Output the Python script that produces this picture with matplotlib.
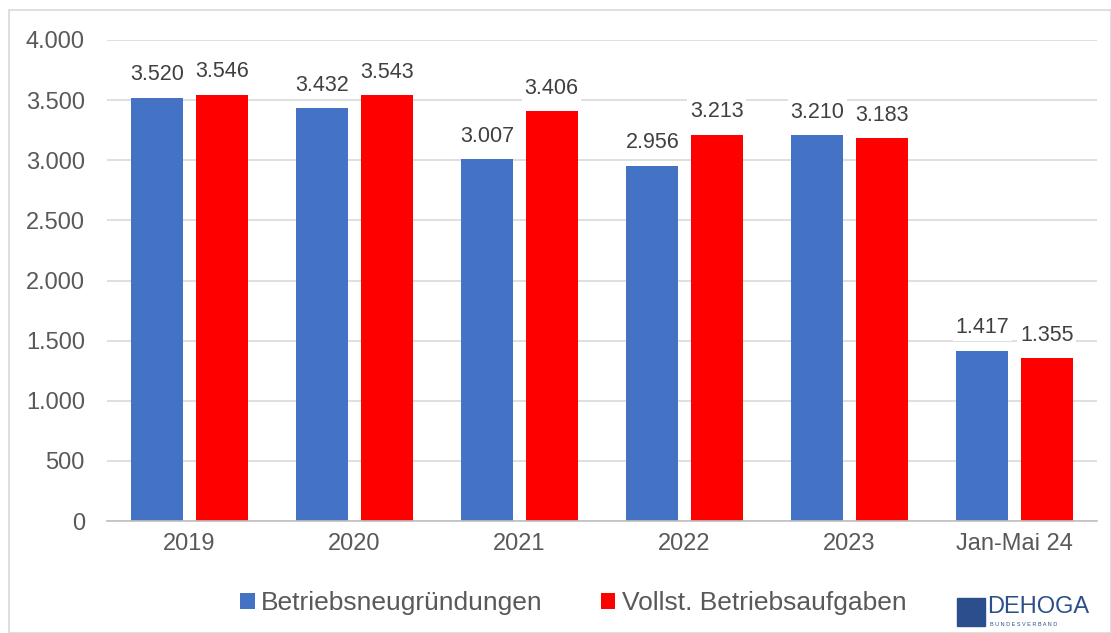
import matplotlib
matplotlib.use("Agg")
import matplotlib.pyplot as plt
from matplotlib.patches import Rectangle
import numpy as np

plt.rcParams['font.family'] = ['Liberation Sans', 'DejaVu Sans']

categories = ["2019", "2020", "2021", "2022", "2023", "Jan-Mai 24"]
gruendungen = [3520, 3432, 3007, 2956, 3210, 1417]
aufgaben = [3546, 3543, 3406, 3213, 3183, 1355]
labels = ["Betriebsneugründungen", "Vollst. Betriebsaufgaben"]
yticks = [0, 500, 1000, 1500, 2000, 2500, 3000, 3500, 4000]

BLUE = "#4472c4"
RED = "#ff0000"
TXT = "#595959"


def fmt(v):
    return f"{v:,}".replace(",", ".")


fig = plt.figure(figsize=(11.11, 6.33), dpi=100)
fig.patches.append(Rectangle((9 / 1111, 0), 1 - 9 / 1111, 1 - 10 / 633,
                             transform=fig.transFigure, fill=False,
                             edgecolor="#d9d9d9", lw=1.2))
ax = fig.add_axes([107 / 1111, 1 - 521 / 633, 990 / 1111, 481 / 633])

x = np.arange(len(categories))
w = 0.315
off = 0.195
b1 = ax.bar(x - off, gruendungen, w, color=BLUE, zorder=2, label=labels[0])
b2 = ax.bar(x + off, aufgaben, w, color=RED, zorder=2, label=labels[1])

for bars, vals in ((b1, gruendungen), (b2, aufgaben)):
    for r, v in zip(bars, vals):
        ax.text(r.get_x() + r.get_width() / 2, v + 145, fmt(v),
                ha="center", va="baseline", fontsize=15.5, color="#404040",
                zorder=3, bbox=dict(facecolor="white", edgecolor="none", pad=2))

ax.set_xlim(-0.5, len(categories) - 0.5)
ax.set_ylim(0, 4000)
ax.set_yticks(yticks)
ax.set_yticklabels([fmt(t) for t in yticks])
ax.set_xticks(x)
ax.set_xticklabels(categories)
ax.tick_params(axis="both", length=0, labelsize=17, labelcolor=TXT)
ax.tick_params(axis="y", pad=16)
ax.tick_params(axis="x", pad=9)
ax.grid(axis="y", color="#d9d9d9", lw=1.2, zorder=0)
for s in ("top", "right", "left"):
    ax.spines[s].set_visible(False)
ax.spines["bottom"].set_color("#bfbfbf")
ax.spines["bottom"].set_linewidth(1.2)

fig.legend(handles=[b1, b2], labels=labels, loc="center",
           bbox_to_anchor=(0.516, 1 - 603 / 633), ncol=2, frameon=False,
           fontsize=19, labelcolor=TXT, handlelength=0.55, handleheight=0.55,
           handletextpad=0.25, columnspacing=2.2)

# DEHOGA logo (approximation)
fig.patches.append(Rectangle((957 / 1111, 1 - 626 / 633), 28 / 1111, 28 / 633,
                             transform=fig.transFigure, color="#2b4f8c"))
fig.text(987 / 1111, 1 - 607 / 633, "DEHOGA", fontsize=17, color="#2b4f8c",
         va="center", ha="left")
fig.text(990 / 1111, 1 - 624 / 633, "B U N D E S V E R B A N D", fontsize=4,
         color="#2b4f8c", va="center", ha="left")

fig.savefig("out.png", dpi=100)
